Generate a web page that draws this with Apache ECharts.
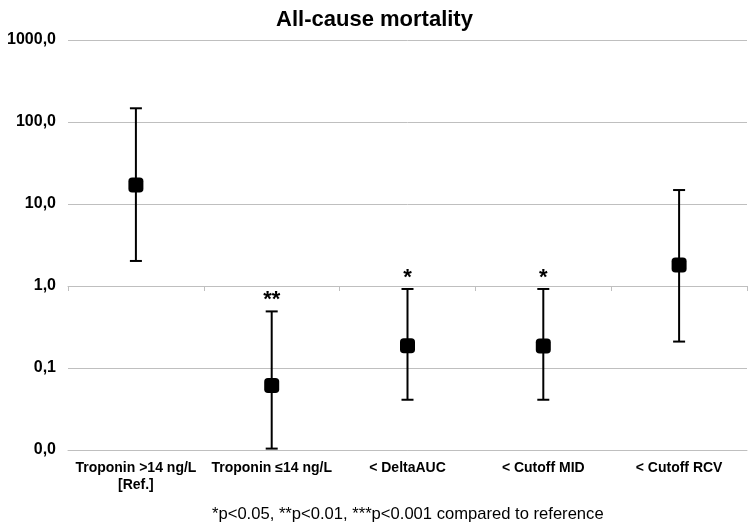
<!DOCTYPE html>
<html>
<head>
<meta charset="utf-8">
<script src="https://cdn.jsdelivr.net/npm/echarts@6/dist/echarts.min.js"></script>
<style>html,body{margin:0;padding:0;background:#fff}#c{width:749px;height:525px}</style>
</head>
<body>
<div id="c"></div>
<script>
const categories = ['Troponin >14 ng/L\n[Ref.]', 'Troponin \u226414 ng/L', '< DeltaAUC', '< Cutoff MID', '< Cutoff RCV'];
const estimates = [17.0, 0.061, 0.187, 0.185, 1.80];
const lowerCI = [2.02, 0.0104, 0.041, 0.041, 0.21];
const upperCI = [147, 0.49, 0.92, 0.92, 14.8];
const significance = ['', '**', '*', '*', ''];
const titleText = 'All-cause mortality';
const footnote = '*p<0.05, **p<0.01, ***p<0.001 compared to reference';

const FONT = "'Liberation Sans', Arial, sans-serif";
const chart = echarts.init(document.getElementById('c'), null, {renderer: 'canvas'});

const errData = categories.map((c, i) => [i, lowerCI[i], upperCI[i], significance[i]]);

chart.setOption({
  animation: false,
  backgroundColor: '#ffffff',
  title: [
    {text: titleText, left: 'center', top: 4,
     textStyle: {fontFamily: FONT, fontSize: 22, fontWeight: 'bold', color: '#000'}},
    {text: footnote, left: 207, top: 501,
     textStyle: {fontFamily: FONT, fontSize: 16.6, fontWeight: 'normal', color: '#000'}}
  ],
  grid: {left: 68, right: 2, top: 40, bottom: 75, containLabel: false},
  xAxis: [
    {type: 'category', data: categories, position: 'bottom',
     axisLine: {show: true, lineStyle: {color: '#bfbfbf', width: 1}},
     axisTick: {show: false},
     axisLabel: {fontFamily: FONT, fontSize: 14, fontWeight: 'bold', color: '#000', margin: 10, lineHeight: 17, interval: 0},
     splitLine: {show: false}},
    {type: 'category', data: categories, position: 'bottom', offset: -164,
     axisLine: {show: true, lineStyle: {color: '#bfbfbf', width: 1}},
     axisTick: {show: true, length: 5, lineStyle: {color: '#bfbfbf'}},
     axisLabel: {show: false},
     splitLine: {show: false}}
  ],
  yAxis: {
    type: 'log', logBase: 10, min: 0.01, max: 1000,
    axisLine: {show: false}, axisTick: {show: false},
    axisLabel: {fontFamily: FONT, fontSize: 16, fontWeight: 'bold', color: '#000', margin: 12,
      formatter: v => Number(v).toFixed(1).replace('.', ',')},
    splitLine: {show: true, lineStyle: {color: '#bfbfbf', width: 1}}
  },
  series: [
    {
      type: 'custom',
      xAxisIndex: 0,
      data: errData,
      renderItem: function (params, api) {
        const x = api.value(0);
        const lo = api.coord([x, api.value(1)]);
        const hi = api.coord([x, api.value(2)]);
        const sig = significance[params.dataIndex];
        const cap = 6;
        const style = {stroke: '#000', lineWidth: 2};
        const children = [
          {type: 'line', shape: {x1: lo[0], y1: lo[1], x2: hi[0], y2: hi[1]}, style: style},
          {type: 'line', shape: {x1: lo[0] - cap, y1: lo[1], x2: lo[0] + cap, y2: lo[1]}, style: style},
          {type: 'line', shape: {x1: hi[0] - cap, y1: hi[1], x2: hi[0] + cap, y2: hi[1]}, style: style}
        ];
        if (sig) {
          children.push({type: 'text', style: {text: sig, x: hi[0], y: hi[1],
            align: 'center', verticalAlign: 'bottom',
            font: 'bold 22px ' + FONT, fill: '#000'}});
        }
        return {type: 'group', children: children};
      },
      z: 2
    },
    {
      type: 'scatter',
      xAxisIndex: 0,
      data: estimates.map((v, i) => [i, v]),
      symbol: 'roundRect',
      symbolSize: 15,
      itemStyle: {color: '#000', opacity: 1},
      z: 3
    }
  ]
});
</script>
</body>
</html>
